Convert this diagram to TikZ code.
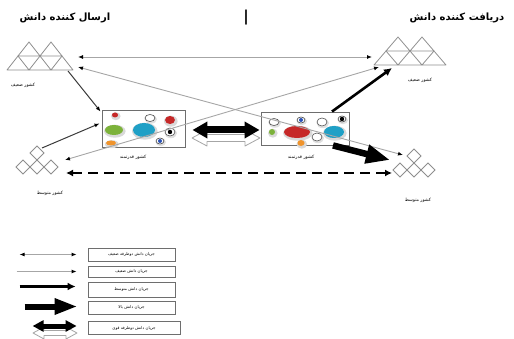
\documentclass[tikz,border=0pt]{standalone}
\usepackage{fontspec}
\newfontfamily\fafont[Script=Arabic]{DejaVu Sans}
\TeXXeTstate=1
\usetikzlibrary{arrows.meta,positioning,calc}
\definecolor{muted}{HTML}{8E8E8E}
\definecolor{edge}{HTML}{6E6E6E}
\definecolor{pale}{HTML}{A6A6A6}
\definecolor{darkline}{HTML}{3A3A3A}
\definecolor{dotred}{HTML}{C62828}
\definecolor{dotgreen}{HTML}{7CB23A}
\definecolor{dotcyan}{HTML}{1FA0C6}
\definecolor{dotblue}{HTML}{2A52B8}
\definecolor{dotorange}{HTML}{F0942C}
\tikzset{
  tri/.style={draw=muted,line width=0.8pt,line join=round},
  dia/.style={draw=muted,line width=0.8pt},
  panel/.style={draw=edge,line width=0.9pt,fill=white,inner sep=0pt},
  lbl/.style={font=\fafont\fontsize{4.5}{5}\selectfont,inner sep=0pt},
  ttl/.style={font=\fafont\bfseries\fontsize{10}{12}\selectfont,inner sep=0pt},
  keybox/.style={draw=edge,line width=0.8pt,minimum width=87pt,minimum height=13pt,inner sep=0pt,font=\fafont\fontsize{4}{5}\selectfont},
  weak/.style={draw=pale,line width=0.9pt,>={Latex[color=black,length=5pt,width=4pt]},->},
  weakboth/.style={weak,<->},
  weakdark/.style={draw=darkline,line width=1pt,>={Latex[color=black,length=5pt,width=4pt]},->},
  mid/.style={draw=black,line width=2.6pt,>={Latex[length=8pt,width=8pt]},->},
  big/.style={draw=black,line width=6.5pt,>={Triangle[length=24pt,width=18pt]},->},
  dashflow/.style={draw=black,line width=2.6pt,dash pattern=on 10pt off 6pt,>={Latex[length=7pt,width=7pt]},<->},
  fat/.style={draw=black,line width=7pt,>={Triangle[length=15pt,width=16pt]},<->},
  fatsmall/.style={draw=black,line width=5pt,>={Triangle[length=11pt,width=11pt]},<->},
  ghost/.style={draw=pale,line width=0.8pt,fill=white,line join=round}
}
% triangle lattice: left end of base, base y, triangle width
\newcommand\trigroup[3]{%
  \foreach \k in {0,1,2}
    \draw[tri] (#1+#3*\k,#2) -- ++(#3,0) -- ++(-#3/2,-14) -- cycle;
  \foreach \k in {0,1}
    \draw[tri] (#1+#3/2+#3*\k,#2-14) -- ++(#3,0) -- ++(-#3/2,-14) -- cycle;
}
% diamond group: centre of first lower diamond
\newcommand\diagroup[2]{%
  \foreach \k in {0,1,2}
    \draw[dia] (#1+14*\k-7,#2) -- ++(7,-7) -- ++(7,7) -- ++(-7,7) -- cycle;
  \draw[dia] (#1+7,#2-14) -- ++(7,-7) -- ++(7,7) -- ++(-7,7) -- cycle;
}
% coloured button: x, y, x radius, y radius, colour
\newcommand\knob[5]{%
  \fill[black!15] (#1+0.8,#2+1.2) ellipse [x radius=#3pt+1.8pt, y radius=#4pt+1.5pt];
  \fill[#5] (#1,#2) ellipse [x radius=#3pt, y radius=#4pt];
}
\newcommand\ring[4]{%
  \fill[black!12] (#1+0.8,#2+1.2) ellipse [x radius=#3pt+1.2pt, y radius=#4pt+1pt];
  \draw[black!70,fill=white,line width=0.6pt] (#1,#2) ellipse [x radius=#3pt, y radius=#4pt];
}
% outline behind a two-way arrow: cx, cy, half length, head, half head, half shaft
\newcommand\dblghost[6]{%
  \draw[ghost] (#1-#3,#2) -- (#1-#3+#4,#2-#5) -- (#1-#3+#4,#2-#6) -- (#1+#3-#4,#2-#6)
    -- (#1+#3-#4,#2-#5) -- (#1+#3,#2) -- (#1+#3-#4,#2+#5) -- (#1+#3-#4,#2+#6)
    -- (#1-#3+#4,#2+#6) -- (#1-#3+#4,#2+#5) -- cycle;
}
\begin{document}
\begin{tikzpicture}[x=1pt,y=-1pt]
  \useasboundingbox (0,0) rectangle (514,339);
  % headings
  \node[ttl] (sender) at (65,18) {\beginR ارسال کننده دانش\endR};
  \node[ttl] (receiver) at (457,18) {\beginR دریافت کننده دانش\endR};
  \node[font=\fafont\bfseries\fontsize{15}{15}\selectfont,inner sep=0pt] (bar) at (246,18) {|};
  % countries
  \trigroup{7}{70}{22}
  \trigroup{374}{65}{24}
  \diagroup{23}{167}
  \diagroup{400}{170}
  \node[lbl] (weakLt) at (23,85) {\beginR کشور ضعیف\endR};
  \node[lbl] (weakRt) at (420,80) {\beginR کشور ضعیف\endR};
  \node[lbl] (midLt) at (50,193) {\beginR کشور متوسط\endR};
  \node[lbl] (midRt) at (418,200) {\beginR کشور متوسط\endR};
  \node[panel,minimum width=83pt,minimum height=37pt] (strongL) at (143.5,128.5) {};
  \node[panel,minimum width=88pt,minimum height=33pt] (strongR) at (305,128.5) {};
  \node[lbl] (strongLt) at (133,157) {\beginR کشور قدرتمند\endR};
  \node[lbl] (strongRt) at (301,157) {\beginR کشور قدرتمند\endR};
  % buttons, left panel
  \knob{115}{115}{3}{2.5}{dotred}
  \ring{150}{118}{5}{3.5}
  \knob{170}{120}{5}{4}{dotred}
  \knob{114}{130}{9}{5}{dotgreen}
  \knob{144}{130}{11}{7}{dotcyan}
  \ring{170}{132}{5}{4}
  \fill (170,132) circle (2.2pt);
  \ring{160}{141}{4}{3}
  \fill[dotblue] (160,141) circle (2pt);
  \knob{111}{143}{5}{2.5}{dotorange}
  % buttons, right panel
  \ring{274}{122}{5}{3.5}
  \ring{301}{120}{4}{3}
  \fill[dotblue] (301,120) circle (2pt);
  \ring{322}{122}{5}{4}
  \ring{342}{119}{4}{3}
  \fill (342,119) circle (2.2pt);
  \knob{272}{132}{3}{3}{dotgreen}
  \knob{297}{132}{13}{6}{dotred}
  \ring{317}{137}{5}{4}
  \knob{334}{132}{10}{6}{dotcyan}
  \knob{301}{143}{3.5}{3}{dotorange}
  % ends of the links
  \coordinate (wL1) at (78,57);
  \coordinate (wR1) at (372,57);
  \coordinate (wL2) at (78,67);
  \coordinate (mR2) at (403,155);
  \coordinate (wR2) at (379,67);
  \coordinate (mL2) at (65,160);
  \coordinate (wL3) at (68,71);
  \coordinate (mL3) at (42,148);
  \coordinate (wR3) at (392,68);
  \coordinate (mR3) at (390,160);
  \coordinate (mL4) at (66,173);
  \coordinate (mR4) at (392,173);
  % links
  \draw[weakboth] (wL1) -- (wR1);
  \draw[weakboth] (wL2) -- (mR2);
  \draw[weakboth] (wR2) -- (mL2);
  \draw[weakdark] (wL3) -- ([shift={(-1,2)}]strongL.north west);
  \draw[weakdark] (mL3) -- ([shift={(-2,-5)}]strongL.west);
  \draw[mid] ([shift={(27,0)}]strongR.north) -- (wR3);
  \draw[big] ([shift={(28,0)}]strongR.south) -- (mR3);
  \draw[dashflow] (mL4) -- (mR4);
  \dblghost{226}{138}{34}{15}{8}{3.5}
  \draw[fat] ([xshift=7pt,yshift=-1.5pt]strongL.east) -- ([xshift=-1pt,yshift=-1.5pt]strongR.west);
  % key
  \node[keybox] (lg1) at (131.5,254.5) {\beginR جریان دانش دوطرفه ضعیف\endR};
  \node[keybox,minimum height=11pt] (lg2) at (131.5,271.5) {\beginR جریان دانش ضعیف\endR};
  \node[keybox,minimum height=15pt] (lg3) at (131.5,289.5) {\beginR جریان دانش متوسط\endR};
  \node[keybox] (lg4) at (131.5,307.5) {\beginR جریان دانش بالا\endR};
  \node[keybox,minimum width=92pt] (lg5) at (134,328) {\beginR جریان دانش دوطرفه قوی\endR};
  \draw[weakboth] ([xshift=-68pt]lg1.west) -- ([xshift=-11pt]lg1.west);
  \draw[weak] ([xshift=-71pt]lg2.west) -- ([xshift=-11pt]lg2.west);
  \draw[mid,line width=2.4pt] ([shift={(-68,-3)}]lg3.west) -- ([shift={(-12,-3)}]lg3.west);
  \draw[big,line width=6pt,>={Triangle[length=23pt,width=15pt]}] ([shift={(-63,-1)}]lg4.west) -- ([shift={(-10,-1)}]lg4.west);
  \dblghost{55}{333}{22}{11}{6}{2.5}
  \draw[fatsmall] ([shift={(-55,-2)}]lg5.west) -- ([shift={(-11,-2)}]lg5.west);
\end{tikzpicture}
\end{document}
